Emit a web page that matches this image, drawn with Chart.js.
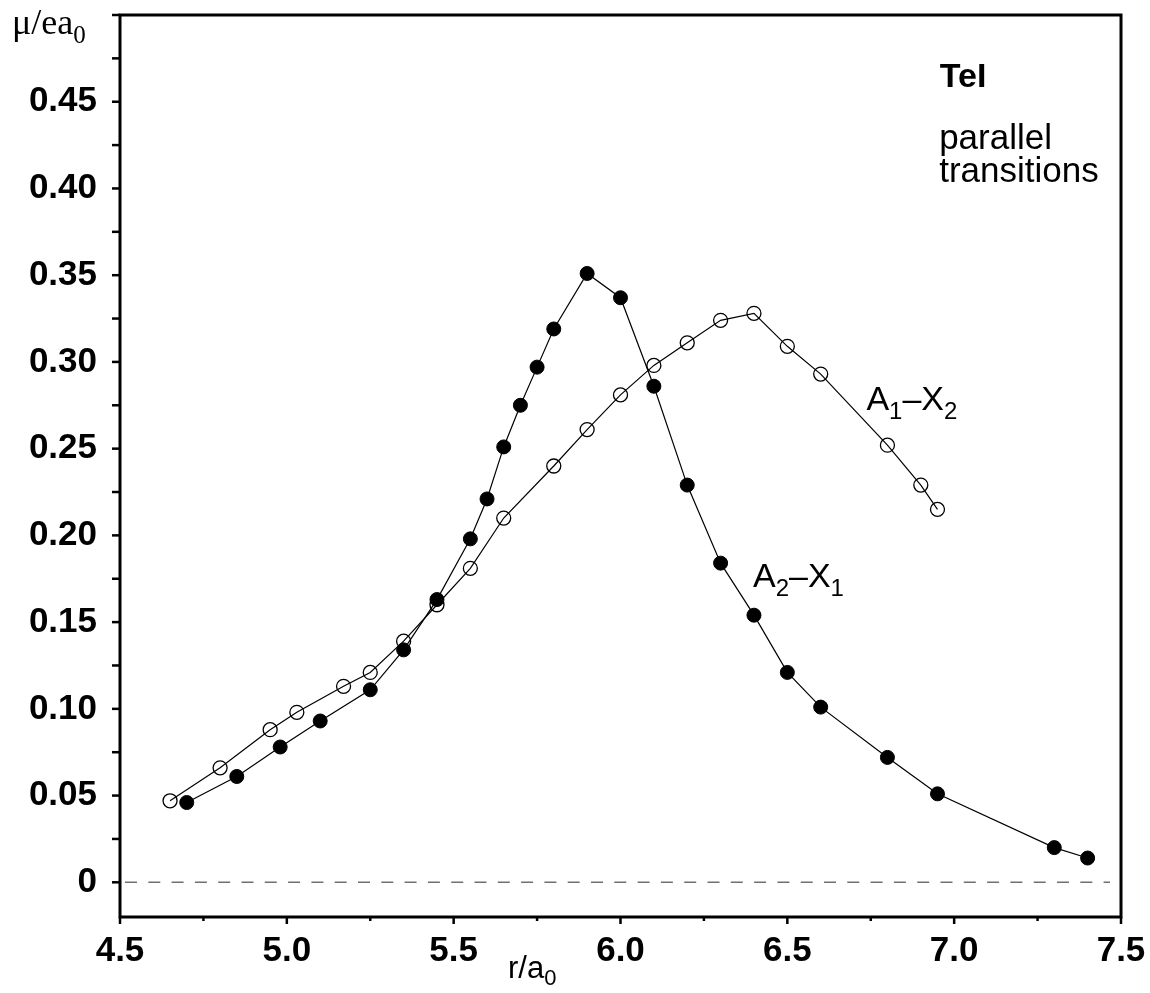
<!DOCTYPE html>
<html>
<head>
<meta charset="utf-8">
<script src="https://cdn.jsdelivr.net/npm/chart.js@4.4.1/dist/chart.umd.min.js"></script>
<style>
  html, body { margin: 0; padding: 0; background: #fff; }
  #wrap { width: 1150px; height: 993px; position: relative; }
</style>
</head>
<body>
<div id="wrap"><canvas id="dipoleChart"></canvas></div>
<script>
// A2–X1 transition moment (filled circles)
const rA2X1 = [4.70, 4.85, 4.98, 5.10, 5.25, 5.35, 5.45, 5.55, 5.60, 5.65, 5.70, 5.75, 5.80,
               5.90, 6.00, 6.10, 6.20, 6.30, 6.40, 6.50, 6.60, 6.80, 6.95, 7.30, 7.40];
const muA2X1 = [0.046, 0.061, 0.078, 0.093, 0.111, 0.134, 0.163, 0.198, 0.221, 0.251, 0.275, 0.297, 0.319,
                0.351, 0.337, 0.286, 0.229, 0.184, 0.154, 0.121, 0.101, 0.072, 0.051, 0.020, 0.014];

// A1–X2 transition moment (open circles)
const rA1X2 = [4.65, 4.80, 4.95, 5.03, 5.17, 5.25, 5.35, 5.45, 5.55, 5.65, 5.80,
               5.90, 6.00, 6.10, 6.20, 6.30, 6.40, 6.50, 6.60, 6.80, 6.90, 6.95];
const muA1X2 = [0.047, 0.066, 0.088, 0.098, 0.113, 0.121, 0.139, 0.160, 0.181, 0.210, 0.240,
                0.261, 0.281, 0.298, 0.311, 0.324, 0.328, 0.309, 0.293, 0.252, 0.229, 0.215];

// axis ticks
const xTickLabels = ['4.5', '5.0', '5.5', '6.0', '6.5', '7.0', '7.5'];
const yTickLabels = ['0', '0.05', '0.10', '0.15', '0.20', '0.25', '0.30', '0.35', '0.40', '0.45'];

const SANS = '"Liberation Sans", Arial, Helvetica, sans-serif';
const SERIF = '"Liberation Serif", "Times New Roman", serif';

function toPoints(xs, ys) {
    return xs.map((x, i) => ({ x: x, y: ys[i] }));
}

// draws a run of [text, isSubscript] pieces starting at (x, y) on the baseline
function drawRich(ctx, parts, x, y, size, family, weight) {
    parts.forEach(([text, sub]) => {
        const fs = sub ? Math.round(size * 0.7) : size;
        ctx.font = `${weight || 'normal'} ${fs}px ${family}`;
        ctx.fillText(text, x, sub ? y + size * 0.24 : y);
        x += ctx.measureText(text).width;
    });
}

// keep the plot box fixed: no extra room for half labels at the axis ends
function noScalePadding(scale) {
    scale.paddingTop = 0;
    scale.paddingBottom = 0;
    scale.paddingLeft = 0;
    scale.paddingRight = 0;
}

// in-plot labels, placed in data units
const notes = [
    { x: 6.737, y: 0.272, size: 34, parts: [['A'], ['1', true], ['\u2013'], ['X'], ['2', true]] },
    { x: 6.397, y: 0.170, size: 34, parts: [['A'], ['2', true], ['\u2013'], ['X'], ['1', true]] },
    { x: 6.957, y: 0.4587, size: 34, parts: [['TeI']], weight: 'bold' },
    { x: 6.955, y: 0.4225, size: 35, parts: [['parallel']] },
    { x: 6.955, y: 0.4040, size: 35, parts: [['transitions']] }
];

const framePlugin = {
    id: 'framePlugin',
    beforeDatasetsDraw(chart) {
        const { ctx, chartArea: a, scales: { y } } = chart;
        // dashed zero line
        const y0 = y.getPixelForValue(0);
        ctx.save();
        ctx.strokeStyle = '#707070';
        ctx.lineWidth = 1.6;
        ctx.setLineDash([12, 11.3]);
        ctx.beginPath();
        ctx.moveTo(a.left + 5, y0);
        ctx.lineTo(a.right - 11, y0);
        ctx.stroke();
        ctx.restore();
    },
    afterDraw(chart) {
        const { ctx, chartArea: a, scales: { x, y } } = chart;
        ctx.save();
        ctx.strokeStyle = '#000';

        // tick marks
        ctx.lineWidth = 2.5;
        y.ticks.forEach(t => {
            const py = y.getPixelForValue(t.value);
            ctx.beginPath();
            ctx.moveTo(a.left - 8, py);
            ctx.lineTo(a.left, py);
            ctx.stroke();
        });
        x.ticks.forEach(t => {
            const px = x.getPixelForValue(t.value);
            const major = Math.round(t.value * 100) % 50 === 0;
            ctx.beginPath();
            ctx.moveTo(px, a.bottom);
            ctx.lineTo(px, a.bottom + (major ? 7 : 4));
            ctx.stroke();
        });

        // frame
        ctx.lineWidth = 3;
        ctx.strokeRect(a.left, a.top, a.right - a.left, a.bottom - a.top);

        // labels
        ctx.fillStyle = '#000';
        ctx.textAlign = 'left';
        ctx.textBaseline = 'alphabetic';
        notes.forEach(n => {
            drawRich(ctx, n.parts, x.getPixelForValue(n.x), y.getPixelForValue(n.y), n.size, SANS, n.weight);
        });

        // axis titles
        drawRich(ctx, [['\u03bc/ea'], ['0', true]], 12, 34, 36, SERIF);
        drawRich(ctx, [['r/a'], ['0', true]], 508, 978, 31, SANS);
        ctx.restore();
    }
};

const ctx = document.getElementById('dipoleChart').getContext('2d');

new Chart(ctx, {
    type: 'line',
    data: {
        datasets: [
            {
                label: 'A2–X1',
                data: toPoints(rA2X1, muA2X1),
                borderColor: '#000',
                borderWidth: 1.2,
                pointBackgroundColor: '#000',
                pointBorderColor: '#000',
                pointBorderWidth: 1,
                pointRadius: 7,
                tension: 0
            },
            {
                label: 'A1–X2',
                data: toPoints(rA1X2, muA1X2),
                borderColor: '#000',
                borderWidth: 1.2,
                pointBackgroundColor: 'rgba(255,255,255,0)',
                pointBorderColor: '#000',
                pointBorderWidth: 1.3,
                pointRadius: 7,
                tension: 0
            }
        ]
    },
    options: {
        responsive: true,
        maintainAspectRatio: false,
        animation: false,
        layout: { padding: { left: 0, top: 15, right: 29, bottom: 0 } },
        plugins: {
            legend: { display: false },
            tooltip: { enabled: false }
        },
        scales: {
            x: {
                type: 'linear',
                min: 4.5,
                max: 7.5,
                border: { display: false },
                grid: { display: false, drawTicks: false },
                afterFit: scale => { scale.height = 76; noScalePadding(scale); },
                ticks: {
                    stepSize: 0.25,
                    autoSkip: false,
                    maxRotation: 0,
                    padding: 13,
                    color: '#000',
                    font: { family: SANS, size: 35, weight: 'bold' },
                    callback: v => {
                        const k = Math.round((v - 4.5) * 100);
                        return k % 50 === 0 ? xTickLabels[k / 50] : '';
                    }
                }
            },
            y: {
                min: -0.02,
                max: 0.5,
                border: { display: false },
                grid: { display: false, drawTicks: false },
                afterFit: scale => { scale.width = 120; noScalePadding(scale); },
                ticks: {
                    stepSize: 0.025,
                    includeBounds: false,
                    autoSkip: false,
                    padding: 23,
                    color: '#000',
                    font: { family: SANS, size: 35, weight: 'bold' },
                    callback: v => {
                        const k = Math.round(v * 1000);
                        if (k < 0 || k % 50 !== 0) return '';
                        return yTickLabels[k / 50] || '';
                    }
                }
            }
        }
    },
    plugins: [framePlugin]
});
</script>
</body>
</html>
